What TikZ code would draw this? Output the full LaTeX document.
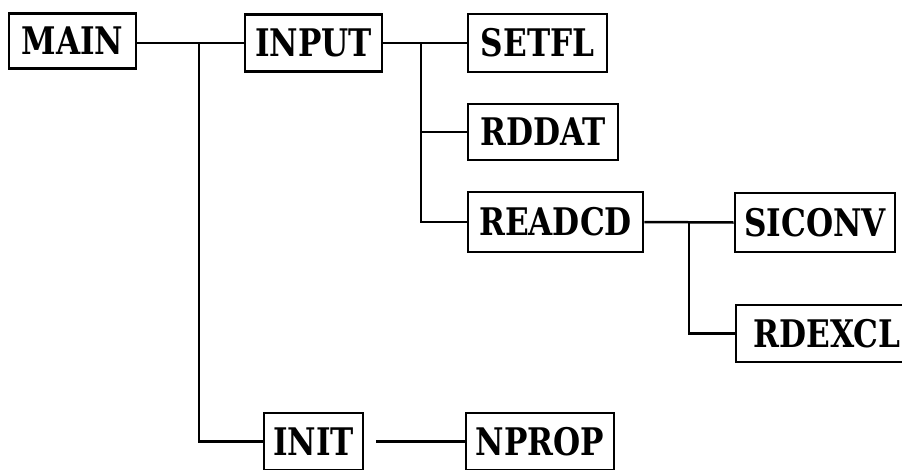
\documentclass[tikz,border=0pt]{standalone}
\usepackage{fontspec}
\newfontfamily\boxfont{DejaVu Serif}[FakeStretch=0.82]
\begin{document}
\begin{tikzpicture}[x=1pt,y=-1pt,
  modbox/.style={draw, line width=2.6pt, inner sep=0pt, anchor=center,
    minimum height=#1, font=\boxfont\fontsize{38}{38}\selectfont\bfseries},
  modbox/.default=57pt,
  link/.style={line width=2.5pt}]
  \clip (0,0) rectangle (902,469);
  \fill[white] (0,0) rectangle (902,469);

  % modules
  \node[modbox=55pt, minimum width=127pt] (main)   at (72.5,41)  {MAIN};
  \node[modbox, minimum width=137pt]      (input)  at (313.5,43) {INPUT};
  \node[modbox=58pt, minimum width=139pt] (setfl)  at (537.5,43) {SETFL};
  \node[modbox=56pt, minimum width=150pt] (rddat)  at (543,132)  {RDDAT};
  \node[modbox=60pt, minimum width=175pt] (readcd) at (555.5,222) {READCD};
  \node[modbox=59pt, minimum width=160pt] (siconv) at (815,222.5) {SICONV};
  \node[modbox, minimum width=182pt]      (rdexcl) at (827,333.5) {RDEXCL};
  \node[modbox, minimum width=99pt]       (init)   at (313.5,441.5) {INIT};
  \node[modbox, minimum width=148pt]      (nprop)  at (540,441.5) {NPROP};

  % branch points
  \coordinate (jmain)   at (199,43);
  \coordinate (jinput)  at (421,43);
  \coordinate (jreadcd) at (689,222);

  % calls from MAIN
  \draw[link] (main.east |- jmain) -- (input.west);
  \draw[link] (jmain) |- (init.west);

  % calls from INPUT
  \draw[link] (input.east) -- (setfl.west);
  \draw[link] (jinput) |- (readcd.west);
  \draw[link] (jinput |- rddat.west) -- (rddat.west);

  % calls from READCD
  \draw[link] (readcd.east) -- (siconv.west);
  \draw[link] (jreadcd) |- (rdexcl.west);

  % call from INIT
  \draw[link] ([xshift=12pt]init.east) -- (nprop.west);
\end{tikzpicture}
\end{document}
